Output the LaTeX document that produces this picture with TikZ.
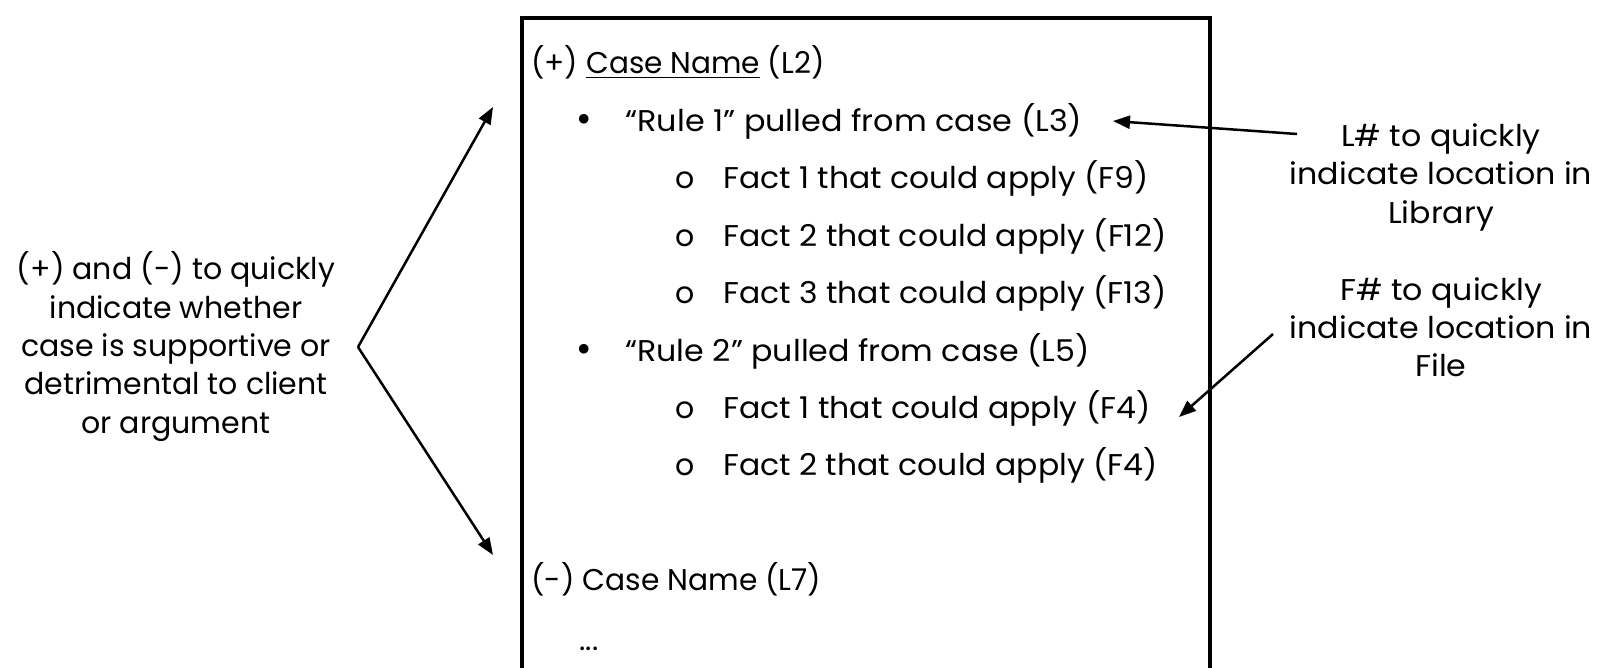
\documentclass[tikz,border=0pt]{standalone}
\usepackage{fontspec}
\usepackage{graphicx}
\setmainfont{Poppins}
\newfontfamily\widefont[FakeStretch=1.055]{Poppins}
\newfontfamily\bulletfont{DejaVu Sans}
\usetikzlibrary{arrows.meta}
\newcommand\fitline[2]{\resizebox{#1}{\height}{#2}}
\tikzset{
  txt/.style={inner sep=0pt, anchor=base west, font=\fontsize{15pt}{18pt}\selectfont},
  bul/.style={inner sep=0pt, anchor=base west, font=\fontsize{16.5pt}{18pt}\bulletfont},
  lbl/.style={inner sep=0pt, anchor=base, align=center, font=\fontsize{15pt}{19.15pt}\selectfont},
  wlbl/.style={lbl, font=\fontsize{15pt}{19.15pt}\widefont},
  arr/.style={line width=1.25pt, -{Triangle[length=8.5pt,width=6.5pt]}},
  frame/.style={line width=2pt},
}
\begin{document}
\begin{tikzpicture}[x=0.5pt,y=-0.5pt]
\useasboundingbox (0,0) rectangle (1599,668);
% frame
\coordinate (fbl) at (522,680);
\coordinate (ftr) at (1210,18);
\draw[frame] (fbl) |- (ftr) -- (1210,680);
% content
\node[txt] (c1) at (531,74) {\fitline{146.5pt}{(+) \underline{Case Name} (L2)}};
\node[bul] (b1) at (574,131.4) {•};
\node[txt] (r1) at (625,131.4) {\fitline{228.5pt}{“Rule 1” pulled from case (L3)}};
\node[txt] (o1) at (675,188.8) {o};
\node[txt] (f1) at (723,188.8) {\fitline{212.5pt}{Fact 1 that could apply (F9)}};
\node[txt] (o2) at (675,246.2) {o};
\node[txt] (f2) at (723,246.2) {\fitline{221.5pt}{Fact 2 that could apply (F12)}};
\node[txt] (o3) at (675,303.6) {o};
\node[txt] (f3) at (723,303.6) {\fitline{221.5pt}{Fact 3 that could apply (F13)}};
\node[bul] (b2) at (574,361) {•};
\node[txt] (r2) at (625,361) {\fitline{232pt}{“Rule 2” pulled from case (L5)}};
\node[txt] (o4) at (675,418.4) {o};
\node[txt] (f4) at (723,418.4) {\fitline{213.5pt}{Fact 1 that could apply (F4)}};
\node[txt] (o5) at (675,475.8) {o};
\node[txt] (f5) at (723,475.8) {\fitline{217pt}{Fact 2 that could apply (F4)}};
\node[txt] (c2) at (531,590) {\fitline{145pt}{(-) Case Name (L7)}};
\node[txt] (dots) at (579,650) {...};
% side labels
\node[lbl] (left) at (176,433) {(+) and (-) to quickly\\indicate whether\\case is supportive or\\detrimental to client\\or argument};
\node[wlbl] (lib) at (1441,223.3) {L\# to quickly\\indicate location in\\Library};
\node[wlbl] (file) at (1441,376.6) {F\# to quickly\\indicate location in\\File};
% arrows
\coordinate (apex) at (358,347);
\coordinate (tipA) at (493,107);
\coordinate (tipB) at (493,555);
\draw[arr] (apex) -- (tipA);
\draw[arr] (apex) -- (tipB);
\coordinate (lsrc) at (1297,134);
\coordinate (ltip) at (1113,121);
\draw[arr] (lsrc) -- (ltip);
\coordinate (fsrc) at (1273,334);
\coordinate (ftip) at (1179,417);
\draw[arr] (fsrc) -- (ftip);
\end{tikzpicture}
\end{document}
